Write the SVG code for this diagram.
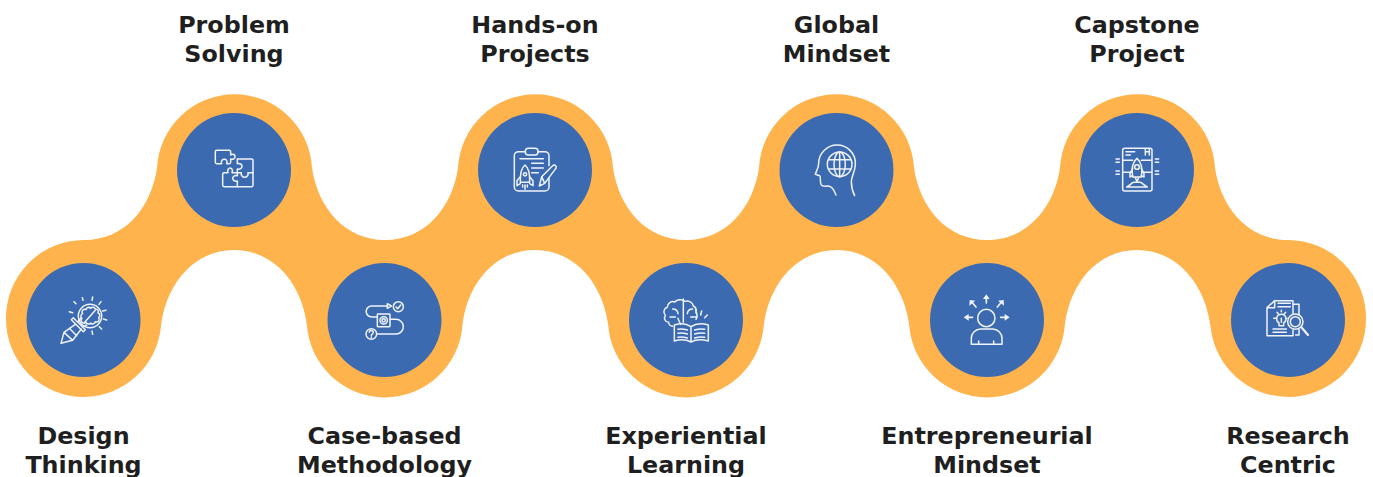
<svg xmlns="http://www.w3.org/2000/svg" width="1373" height="477" viewBox="0 0 1373 477">
<style>
.disc{fill:#3c6ab1}
.band{fill:#feb34d}
.i{fill:none;stroke:#fff;stroke-width:4.500;stroke-linecap:round;stroke-linejoin:round;opacity:.92}
.f{fill:#fff;stroke:none}
.t{font-family:"DejaVu Sans",Verdana,sans-serif;font-weight:700;font-size:23.800px;fill:#1f1f1f;text-anchor:middle}
</style>
<rect width="1373" height="477" fill="#fff"/>
<g id="connectors">
<path class="band" d="M6 319A78 78 0 0 1 84 240C125 240 151 208 157 168A77.6 77.6 0 0 1 312 168C318 208 345 240 385 240C425 240 452 208 458 168A77.6 77.6 0 0 1 613 168C619 208 646 240 686 240C726 240 753 208 759 168A77.6 77.6 0 0 1 914 168C920 208 947 240 987 240C1027 240 1054 208 1060 168A77.6 77.6 0 0 1 1215 168C1221 208 1248 240 1288 240A78 78 0 0 1 1366 319A78 78 0 0 1 1288 397A78 78 0 0 1 1210.500 326C1205 285 1178 250 1137 250C1096 250 1070 285 1064.800 325A78 78 0 0 1 909.200 325C904 285 877 250 837 250C796 250 769 285 763.800 325A78 78 0 0 1 608.200 325C603 285 576 250 535 250C494 250 467 285 462.500 325A78 78 0 0 1 306.900 325C302 285 275 250 234 250C193 250 166 285 161 326A78 78 0 0 1 84 397A78 78 0 0 1 6 319Z"/>
</g>
<g id="node-design-thinking">
<circle class="disc" cx="83.500" cy="320" r="57"/>
<g transform="translate(50 285) scale(.3333)"><g class="i">
<circle cx="120" cy="93" r="35"/>
<path d="M96 100a8 8 0 0 1 2-14a8 8 0 0 1 10-12a8 8 0 0 1 14-4a8 8 0 0 1 14 2a8 8 0 0 1 8 12a8 8 0 0 1 2 14a8 8 0 0 1-10 12a8 8 0 0 1-14 4a8 8 0 0 1-14-2a8 8 0 0 1-12-12z"/>
<path d="M104 112L136 76"/>
<path d="M64 104L70 98L106 134L100 140Z"/>
<path d="M84 110L92 100M100 125L110 120"/>
<path d="M76 118L42 142L33 175L68 166L94 132M42 142L68 166M58 130L80 152"/>
<path d="M72 50L78 56M97 38L99 46M128 36L126 46M153 50L147 58M168 76L158 78M170 105L160 102M155 132L148 125M128 148L126 138M58 80L68 83"/>
</g></g>
<text class="t"><tspan x="83.500" y="444">Design</tspan><tspan x="83.500" y="473">Thinking</tspan></text>
</g>
<g id="node-problem-solving">
<circle class="disc" cx="234" cy="170" r="57"/>
<g transform="translate(200 135) scale(.3333)"><g class="i">
<path d="M50 46H88a4 4 0 0 1 4 4V60c8-6 14 0 13 6c-1 6-6 8-13 6V82a4 4 0 0 1-4 4H80c4-8-2-14-8-13c-6 1-10 6-7 13H50a4 4 0 0 1-4-4V50a4 4 0 0 1 4-4z"/>
<path d="M112 72H155a4 4 0 0 1 4 4V151a4 4 0 0 1-4 4H72a4 4 0 0 1-4-4V117a4 4 0 0 1 4-4H84c-3-8 2-14 6-14c5 0 10 6 6 14H112"/>
<path d="M112 72V86c8-2 14 2 14 8s-6 10-14 8V122c-10-2-14 4-14 8s4 10 14 8V155M112 113H124c-2 8 4 14 10 14s12-6 10-14H159"/>
</g></g>
<text class="t"><tspan x="234" y="33">Problem</tspan><tspan x="234" y="62">Solving</tspan></text>
</g>
<g id="node-case-based">
<circle class="disc" cx="384.500" cy="320" r="57"/>
<g transform="translate(350 285) scale(.3333)"><g class="i">
<rect x="82" y="87" width="38" height="38" rx="2"/>
<circle cx="101" cy="106" r="11" stroke-dasharray="3 2.500"/>
<circle cx="101" cy="106" r="5"/>
<path d="M112 63H65a16 16 0 0 0 0 33H82M120 103H138a22 22 0 0 1 0 44H82"/>
<path d="M112 56L124 63L112 70Z"/>
<circle cx="145" cy="65" r="15"/>
<path d="M138 66L143 71L152 60"/>
<circle cx="64" cy="147" r="16"/>
<path d="M58 142c0-7 12-7 12 0c0 5-6 4-6 10M64 157V158"/>
</g></g>
<text class="t"><tspan x="384.500" y="444">Case-based</tspan><tspan x="384.500" y="473">Methodology</tspan></text>
</g>
<g id="node-hands-on">
<circle class="disc" cx="535" cy="170" r="57"/>
<g transform="translate(500 135) scale(.3333)"><g class="i">
<path d="M76 50H55a12 12 0 0 0-12 12V156a12 12 0 0 0 12 12H135a12 12 0 0 0 12-12V130M147 92V62a12 12 0 0 0-12-12H114"/>
<rect x="76" y="40" width="38" height="20" rx="9"/>
<path d="M60 71H130M95 85H130M95 99H130M95 113H115"/>
<path d="M75 90c-12 10-14 25-14 52h28c0-27-2-42-14-52z"/>
<circle cx="75" cy="118" r="5"/>
<path d="M61 125L51 137V152L61 146M89 125L99 137V152L89 146M68 150V156M82 150V156M75 150V163"/>
<path d="M118 153L125 125L158 92a6 6 0 0 1 9 9L134 145ZM125 125L134 145"/>
</g></g>
<text class="t"><tspan x="535" y="33">Hands-on</tspan><tspan x="535" y="62">Projects</tspan></text>
</g>
<g id="node-experiential">
<circle class="disc" cx="686" cy="320" r="57"/>
<g transform="translate(650 285) scale(.3333)"><g class="i">
<path d="M68 124c-7 0-12-6-12-12c-10 0-16-12-10-21c-8-8-4-22 6-24c0-12 12-20 22-16c6-8 22-10 30-2c10-4 24 2 26 14c8 4 10 12 8 20c4 6 4 14 0 20"/>
<path d="M100 42V112M68 72c8 0 15 5 16 14M128 72c-8 0-15 5-16 14M60 96H76M140 96H122M84 100C86 108 90 112 92 118"/>
<path d="M73 120c15-5 35-5 50 5v46c-15-8-35-8-50-3zM123 125c15-10 35-10 52-5v48c-17-5-37-5-52 3z"/>
<path d="M84 133c10-2 18-1 28 2M84 145c10-2 18-1 28 2M84 157c10-2 18-1 28 2M134 135c10-3 20-4 30-2M134 147c10-3 20-4 30-2M134 159c10-3 20-4 30-2"/>
<path d="M137 75L140 85M155 78L152 90M172 90L164 98"/>
</g></g>
<text class="t"><tspan x="686" y="444">Experiential</tspan><tspan x="686" y="473">Learning</tspan></text>
</g>
<g id="node-global-mindset">
<circle class="disc" cx="836.500" cy="170" r="57"/>
<g transform="translate(802 135) scale(.3333)"><g class="i">
<path d="M102 180C98 170 92 158 85 155C75 150 65 158 58 150C52 142 58 125 53 122L40 118C42 110 50 100 50 85C50 55 75 30 105 30C135 30 163 55 160 90C159 110 148 125 148 140C148 155 152 170 158 182"/>
<circle cx="113" cy="88" r="37"/>
<ellipse cx="113" cy="88" rx="17" ry="37"/>
<path d="M113 51V125M80 74H146M80 102H146"/>
</g></g>
<text class="t"><tspan x="836.500" y="33">Global</tspan><tspan x="836.500" y="62">Mindset</tspan></text>
</g>
<g id="node-entrepreneurial">
<circle class="disc" cx="987" cy="320" r="57"/>
<g transform="translate(952 285) scale(.3333)"><g class="i">
<circle cx="103" cy="99" r="26"/>
<path d="M58 178V160a28 28 0 0 1 28-28H122a28 28 0 0 1 28 28V178ZM80 168V178M125 168V178"/>
<path d="M103 54V38M60 52L72 66M148 52L136 66M46 97H62M146 97H164" stroke-width="5"/>
<path class="f" d="M93 42L103 28L113 42ZM52 62L53 45L70 47ZM156 62L155 45L138 47ZM50 87L35 97L50 107ZM158 87L173 97L158 107Z"/>
</g></g>
<text class="t"><tspan x="987" y="444">Entrepreneurial</tspan><tspan x="987" y="473">Mindset</tspan></text>
</g>
<g id="node-capstone">
<circle class="disc" cx="1137" cy="170" r="57"/>
<g transform="translate(1102 135) scale(.3333)"><g class="i">
<rect x="62" y="40" width="88" height="128" rx="6"/>
<path d="M130 42V60M142 42V60M130 50H142M72 50H98M72 60H85"/>
<path d="M105 70c-14 12-17 32-13 56h26c4-24 1-44-13-56z"/>
<circle cx="105" cy="96" r="7"/>
<path d="M92 100L84 116V126L92 122M118 100L126 116V126L118 122M100 128L105 140L110 128"/>
<path d="M74 156c10-4 15-14 22-14h18c7 0 12 10 22 14z"/>
<path d="M42 72H52M42 82H52M42 108H52M42 118H52M160 72H170M160 82H170M160 108H170M160 118H170M65 76H92M65 112H90M118 76H147M120 112H147"/>
</g></g>
<text class="t"><tspan x="1137" y="33">Capstone</tspan><tspan x="1137" y="62">Project</tspan></text>
</g>
<g id="node-research">
<circle class="disc" cx="1288" cy="320" r="57"/>
<g transform="translate(1253 285) scale(.3333)"><g class="i">
<path d="M65 47H120V85M65 47L42 68V152H120V135M65 47V68H42"/>
<path d="M122 58H138V90M138 132V150H128"/>
<path d="M75 55H112M75 65H112M60 132H100M60 142H100"/>
<path d="M78 122H92V114c12-8 8-26-7-26s-19 18-7 26ZM85 100V112M62 100H72M98 100H102M72 82L76 86M85 76V80M98 82L94 86"/>
<circle cx="127" cy="110" r="23"/>
<circle cx="127" cy="110" r="15"/>
<path d="M145 127L165 150" stroke-width="6.500"/>
</g></g>
<text class="t"><tspan x="1288" y="444">Research</tspan><tspan x="1288" y="473">Centric</tspan></text>
</g>
</svg>
